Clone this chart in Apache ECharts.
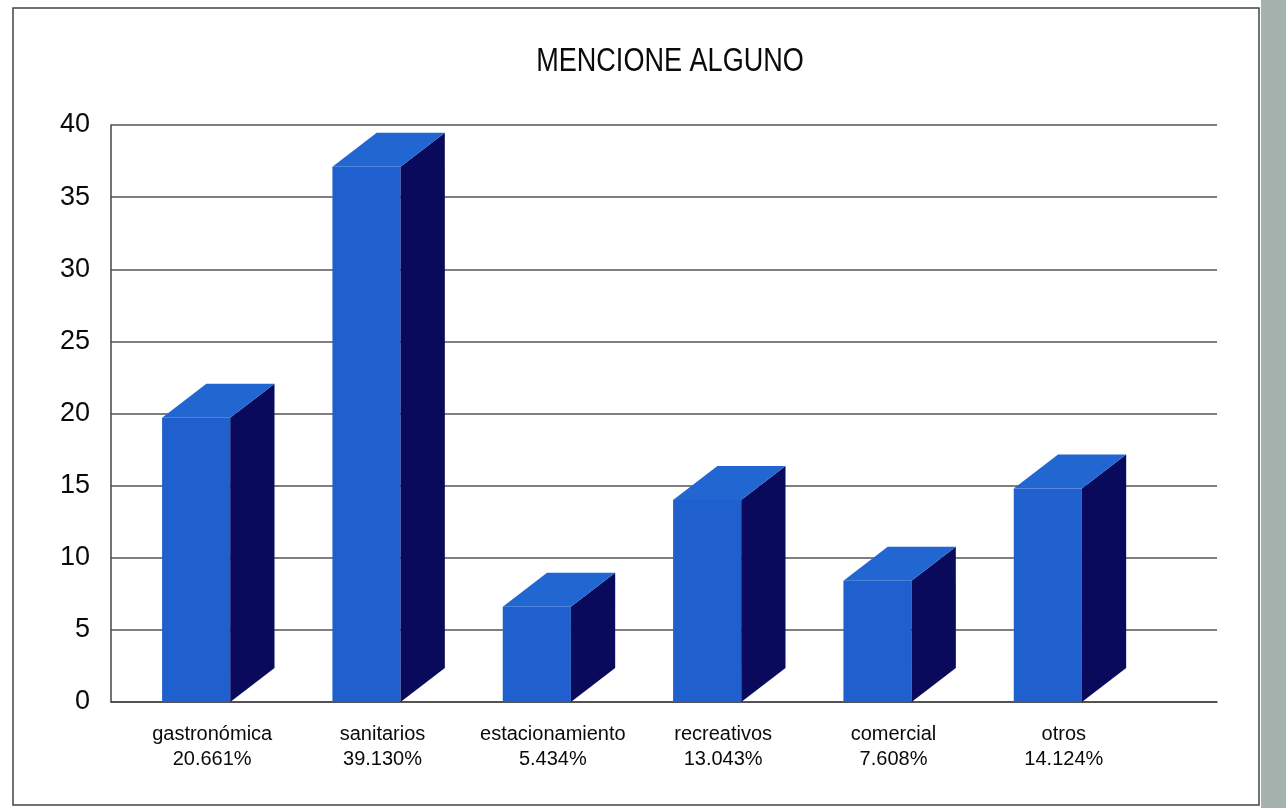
<!DOCTYPE html>
<html>
<head>
<meta charset="utf-8">
<style>
  html, body { margin: 0; padding: 0; background: #ffffff; }
  #chart { width: 1286px; height: 808px; }
</style>
<script src="https://cdn.jsdelivr.net/npm/echarts@6/dist/echarts.min.js"></script>
</head>
<body>
<div id="chart"></div>
<script>
// Categories, shares and counts
const categories = ['gastronómica', 'sanitarios', 'estacionamiento', 'recreativos', 'comercial', 'otros'];
const shares = ['20.661%', '39.130%', '5.434%', '13.043%', '7.608%', '14.124%'];
const counts = [19.7, 37.1, 6.6, 14.0, 8.4, 14.8];
const yTicks = [0, 5, 10, 15, 20, 25, 30, 35, 40];
const titleText = 'MENCIONE ALGUNO';

const FONT = '"Liberation Sans", Arial, sans-serif';
const FRONT = '#1f60ce';
const TOP = '#2266d2';
const SIDE = '#0a0a5c';

const chart = echarts.init(document.getElementById('chart'), null, { renderer: 'canvas' });

// 3D box: front face, top face and right side face
function renderBox(params, api) {
  const idx = api.value(0);
  const val = api.value(1);
  const top = api.coord([idx, val]);
  const base = api.coord([idx, 0]);
  const bw = api.size([1, 0])[0];
  const x0 = top[0] - bw * 0.294;
  const w = bw * 0.40;
  const dx = bw * 0.26;
  const dy = 34;
  const x1 = x0 + w;
  const yT = top[1];
  const yB = base[1];
  return {
    type: 'group',
    children: [
      { type: 'polygon', shape: { points: [[x0, yT], [x1, yT], [x1, yB], [x0, yB]] },
        style: { fill: FRONT } },
      { type: 'polygon', shape: { points: [[x1, yT], [x1 + dx, yT - dy], [x1 + dx, yB - dy], [x1, yB]] },
        style: { fill: SIDE } },
      { type: 'polygon', shape: { points: [[x0, yT], [x0 + dx, yT - dy], [x1 + dx, yT - dy], [x1, yT]] },
        style: { fill: TOP } }
    ]
  };
}

const option = {
  backgroundColor: '#ffffff',
  animation: false,
  grid: [
    { left: 111, right: 69, top: 125, bottom: 106 },
    { left: 127, right: 137, top: 125, bottom: 106 }
  ],
  xAxis: [
    { gridIndex: 0, type: 'category', data: categories,
      axisLine: { show: true, lineStyle: { color: '#444', width: 1.5 } },
      axisTick: { show: false }, axisLabel: { show: false } },
    { gridIndex: 1, type: 'category', data: categories,
      axisLine: { show: false }, axisTick: { show: false },
      axisLabel: {
        interval: 0, margin: 20, fontFamily: FONT, fontSize: 20, color: '#0a0a0a', lineHeight: 25,
        formatter: (v, i) => v + '\n' + shares[i]
      } }
  ],
  yAxis: [
    { gridIndex: 0, type: 'value', min: yTicks[0], max: yTicks[yTicks.length - 1], interval: 5,
      axisLine: { show: true, lineStyle: { color: '#444', width: 1.5 } },
      axisTick: { show: false },
      axisLabel: { margin: 21, fontFamily: FONT, fontSize: 27, color: '#0a0a0a' },
      splitLine: { show: true, lineStyle: { color: '#555', width: 1.5 } } },
    { gridIndex: 1, type: 'value', min: yTicks[0], max: yTicks[yTicks.length - 1], interval: 5,
      show: false }
  ],
  series: [{
    type: 'custom',
    xAxisIndex: 1, yAxisIndex: 1,
    renderItem: renderBox,
    data: counts.map((v, i) => [i, v]),
    encode: { x: 0, y: 1 }
  }],
  graphic: [
    { type: 'rect', shape: { x: 13, y: 8, width: 1246, height: 797 },
      style: { fill: 'none', stroke: '#444', lineWidth: 1.5 }, silent: true },
    { type: 'rect', shape: { x: 1261, y: 0, width: 25, height: 808 },
      style: { fill: '#a6b2ae' }, silent: true },
    // condensed heading
    { type: 'text', x: 670, y: 62, scaleX: 0.82,
      style: { text: titleText, font: '33px ' + FONT, fill: '#0a0a0a',
               textAlign: 'center', textVerticalAlign: 'middle' } }
  ]
};

chart.setOption(option);
</script>
</body>
</html>
